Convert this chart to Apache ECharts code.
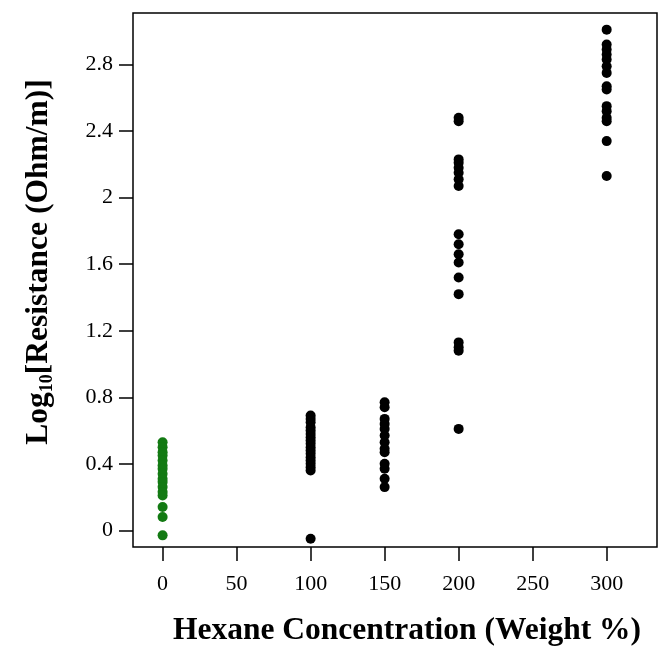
<!DOCTYPE html>
<html>
<head>
<meta charset="utf-8">
<script src="https://cdn.jsdelivr.net/npm/echarts@6/dist/echarts.min.js"></script>
<style>
  html, body { margin: 0; padding: 0; background: #fff; }
  #chart { width: 668px; height: 649px; }
</style>
</head>
<body>
<div id="chart"></div>
<script>
// hexane concentration (weight %) and log10 resistance readings
const hexane0 = [0.53, 0.50, 0.47, 0.45, 0.42, 0.39, 0.37, 0.34, 0.31, 0.29, 0.26, 0.23, 0.21, 0.14, 0.08, -0.03];
const hexane100 = [0.69, 0.67, 0.65, 0.62, 0.60, 0.58, 0.56, 0.54, 0.52, 0.50, 0.48, 0.46, 0.44, 0.42, 0.40, 0.38, 0.36, -0.05];
const hexane150 = [0.77, 0.74, 0.67, 0.64, 0.61, 0.57, 0.53, 0.49, 0.47, 0.40, 0.37, 0.31, 0.26];
const hexane200 = [2.48, 2.46, 2.23, 2.21, 2.18, 2.15, 2.11, 2.07, 1.78, 1.72, 1.66, 1.61, 1.52, 1.42, 1.13, 1.10, 1.08, 0.61];
const hexane300 = [3.01, 2.92, 2.89, 2.86, 2.83, 2.79, 2.75, 2.67, 2.65, 2.55, 2.52, 2.48, 2.46, 2.34, 2.13];

const xTicks = [0, 50, 100, 150, 200, 250, 300];
const yTicks = [0, 0.4, 0.8, 1.2, 1.6, 2, 2.4, 2.8];

const toPoints = (x, arr) => arr.map(v => [x, v]);
const blackPoints = [].concat(
  toPoints(100, hexane100),
  toPoints(150, hexane150),
  toPoints(200, hexane200),
  toPoints(300, hexane300)
);

const chart = echarts.init(document.getElementById('chart'));
const serif = 'Liberation Serif';

chart.setOption({
  backgroundColor: '#fff',
  animation: false,
  grid: {
    left: 133, top: 13, right: 11, bottom: 102,
    outerBoundsMode: 'none',
    show: true, borderColor: '#000', borderWidth: 1.5
  },
  xAxis: {
    type: 'value',
    min: -20, max: 334,
    splitLine: { show: false },
    axisLine: { show: false, onZero: false },
    axisTick: { show: true, customValues: xTicks, length: 14, lineStyle: { color: '#000', width: 1.5 } },
    axisLabel: { customValues: xTicks, margin: 26, color: '#000', fontFamily: serif, fontSize: 22 },
    name: 'Hexane Concentration (Weight %)',
    nameLocation: 'middle',
    nameGap: 68,
    nameTextStyle: { fontFamily: serif, fontWeight: 'bold', fontSize: 31.5, color: '#000', padding: [0, 0, 0, 24] }
  },
  yAxis: {
    type: 'value',
    min: -0.1, max: 3.11,
    splitLine: { show: false },
    axisLine: { show: false, onZero: false },
    axisTick: { show: true, customValues: yTicks, length: 14, lineStyle: { color: '#000', width: 1.5 } },
    axisLabel: { customValues: yTicks, margin: 20, color: '#000', fontFamily: serif, fontSize: 22 },
    name: '{n|Log}{s|10}{n|[Resistance (Ohm/m)]}',
    nameLocation: 'middle',
    nameGap: 77,
    nameTextStyle: {
      padding: [0, 0, 0, 36],
      rich: {
        n: { fontFamily: serif, fontWeight: 'bold', fontSize: 31.5, color: '#000', lineHeight: 34 },
        s: { fontFamily: serif, fontWeight: 'bold', fontSize: 18, color: '#000', lineHeight: 18, padding: [17, 0, 0, 0], verticalAlign: 'bottom' }
      }
    }
  },
  series: [
    {
      name: 'control',
      type: 'scatter',
      data: toPoints(0, hexane0),
      symbolSize: 10,
      itemStyle: { color: '#137a13', opacity: 1 }
    },
    {
      name: 'hexane',
      type: 'scatter',
      data: blackPoints,
      symbolSize: 10,
      itemStyle: { color: '#000', opacity: 1 }
    }
  ]
});
</script>
</body>
</html>
